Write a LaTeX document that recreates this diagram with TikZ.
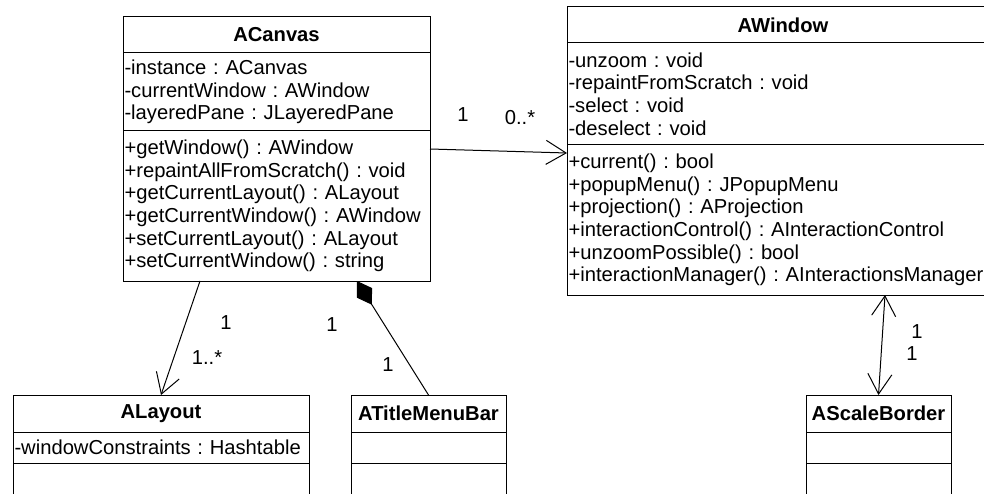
\documentclass[tikz,border=0pt]{standalone}
\usepackage{fontspec}
\setmainfont{Liberation Sans}
\usetikzlibrary{positioning,arrows.meta}

\begin{document}
\frenchspacing
\begin{tikzpicture}[x=1pt,y=-1pt,line width=1pt,
  every node/.style={font=\fontsize{20.2}{22.7}\selectfont},
  cls/.style={draw,fill=white,outer sep=0pt,inner xsep=1.5pt,inner ysep=0pt,anchor=north west,align=center,font=\fontsize{20.2}{22.7}\selectfont\bfseries},
  part/.style={draw,fill=white,outer sep=0pt,inner xsep=1.5pt,inner ysep=0pt,align=left},
  mult/.style={inner sep=0pt},
  assoc/.style={-{Straight Barb[length=20pt,width=24pt]}}]
\fill[white] (0,0) rectangle (984,494);
\clip (0,0) rectangle (984,494);

\node[cls,text width=304pt,minimum height=36pt] (canvas) at (123,17) {ACanvas};
\node[part,text width=304pt,minimum height=78pt,below=0pt of canvas] (canvas-a)
  {-instance : ACanvas\\-currentWindow : AWindow\\-layeredPane : JLayeredPane};
\node[part,text width=304pt,minimum height=150pt,below=0pt of canvas-a] (canvas-m)
  {+getWindow() : AWindow\\+repaintAllFromScratch() : void\\+getCurrentLayout() : ALayout\\
   +getCurrentWindow() : AWindow\\+setCurrentLayout() : ALayout\\+setCurrentWindow() : string};

\node[cls,text width=429pt,minimum height=36pt] (window) at (567,7) {AWindow};
\node[part,text width=429pt,minimum height=102pt,below=0pt of window] (window-a)
  {-unzoom : void\\-repaintFromScratch : void\\-select : void\\-deselect : void};
\node[part,text width=429pt,minimum height=150pt,below=0pt of window-a] (window-m)
  {+current() : bool\\+popupMenu() : JPopupMenu\\+projection() : AProjection\\
   +interactionControl() : AInteractionControl\\+unzoomPossible() : bool\\
   +interactionManager() : AInteractionsManager};

\node[cls,text width=293pt,minimum height=37pt] (layout) at (13,395) {ALayout};
\node[part,text width=293pt,minimum height=31pt,below=0pt of layout] (layout-a) {-windowConstraints : Hashtable};
\node[part,text width=293pt,minimum height=40pt,below=0pt of layout-a] (layout-m) {};

\node[cls,text width=152pt,minimum height=37pt] (menubar) at (351,395) {ATitleMenuBar};
\node[part,text width=152pt,minimum height=31pt,below=0pt of menubar] (menubar-a) {};
\node[part,text width=152pt,minimum height=40pt,below=0pt of menubar-a] (menubar-m) {};

\node[cls,text width=142pt,minimum height=37pt] (border) at (806,395) {AScaleBorder};
\node[part,text width=142pt,minimum height=31pt,below=0pt of border] (border-a) {};
\node[part,text width=142pt,minimum height=40pt,below=0pt of border-a] (border-m) {};

\draw[assoc] ([yshift=-18pt]canvas-m.north east) -- ([yshift=-8pt]window-m.north west);
\draw[assoc] ([xshift=77pt]canvas-m.south west) -- (layout.north);
\draw[{Diamond[length=28pt,width=18pt]}-] ([xshift=234pt]canvas-m.south west) -- (menubar.north);
\draw[{Straight Barb[length=20pt,width=24pt]}-{Straight Barb[length=20pt,width=24pt]}]
  ([xshift=318pt]window-m.south west) -- (border.north);

\node[mult] (m1) at (463,115) {1};
\node[mult] (m2) at (520,118) {0..*};
\node[mult] (m3) at (226,323) {1};
\node[mult] (m4) at (207,358) {1..*};
\node[mult] (m5) at (332,325) {1};
\node[mult] (m6) at (388,365) {1};
\node[mult] (m7) at (917,332) {1};
\node[mult] (m8) at (912,354) {1};
\end{tikzpicture}
\end{document}
